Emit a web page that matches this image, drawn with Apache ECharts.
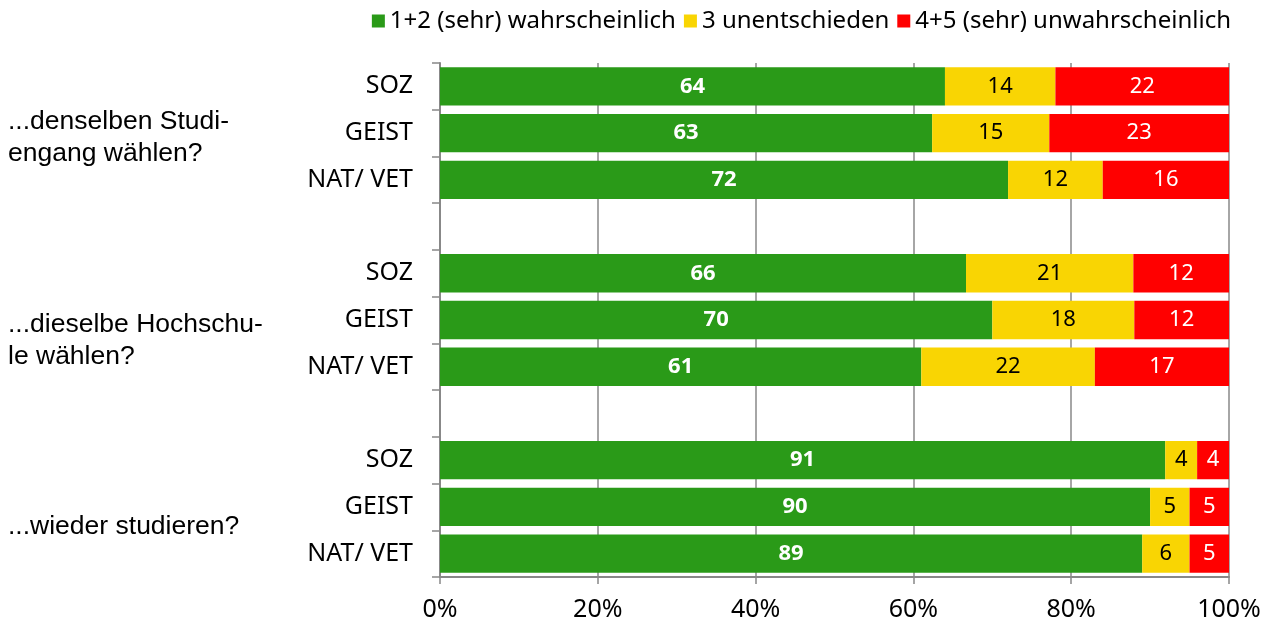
<!DOCTYPE html>
<html>
<head>
<meta charset="utf-8">
<script src="https://cdn.jsdelivr.net/npm/echarts@6/dist/echarts.min.js"></script>
<style>
    html, body { margin: 0; padding: 0; background: #fff; }
    #chart { width: 1274px; height: 625px; }
</style>
</head>
<body>
<div id="chart"></div>
<script>
// Daten
var categories = ['SOZ', 'GEIST', 'NAT/ VET', '', 'SOZ', 'GEIST', 'NAT/ VET', '', 'SOZ', 'GEIST', 'NAT/ VET'];
var likely = [64, 63, 72, null, 66, 70, 61, null, 91, 90, 89];
var undecided = [14, 15, 12, null, 21, 18, 22, null, 4, 5, 6];
var unlikely = [22, 23, 16, null, 12, 12, 17, null, 4, 5, 5];
var seriesNames = ['1+2 (sehr) wahrscheinlich', '3 unentschieden', '4+5 (sehr) unwahrscheinlich'];
var groupLabels = ['...denselben Studi-\nengang wählen?', '...dieselbe Hochschu-\nle wählen?', '...wieder studieren?'];
var xTicks = [0, 20, 40, 60, 80, 100];

var colors = ['#2a9a18', '#f9d503', '#ff0000'];
var font = '"Noto Sans", "Open Sans", sans-serif';
var groupFont = '26.5px "Liberation Sans", Arial, sans-serif';

// 100%-Stapel wie in Excel: jeder Wert durch die Zeilensumme
function share(arr) {
    return arr.map(function (v, i) {
        if (v == null) return null;
        var total = likely[i] + undecided[i] + unlikely[i];
        return v / total * 100;
    });
}

function makeSeries(name, arr, color, labelColor, bold) {
    return {
        name: name,
        type: 'bar',
        stack: 'all',
        barCategoryGap: '18%',
        data: share(arr),
        itemStyle: { color: color },
        label: {
            show: true,
            position: 'inside',
            color: labelColor,
            fontFamily: font,
            fontSize: 22,
            fontWeight: bold ? 'bold' : 'normal',
            formatter: function (p) { return arr[p.dataIndex]; }
        }
    };
}

var myChart = echarts.init(document.getElementById('chart'));

var option = {
    animation: false,
    legend: {
        right: 38,
        top: 4,
        itemWidth: 13,
        itemHeight: 13,
        itemGap: 8,
        icon: 'rect',
        textStyle: { fontFamily: font, fontSize: 24, color: '#000' },
        data: seriesNames
    },
    grid: { left: 440, right: 45, top: 63, bottom: 48 },
    xAxis: {
        type: 'value',
        min: xTicks[0],
        max: xTicks[xTicks.length - 1],
        interval: 20,
        axisLine: { show: true, lineStyle: { color: '#888', width: 2 } },
        axisTick: { show: true, length: 7, lineStyle: { color: '#888', width: 1.5 } },
        axisLabel: {
            formatter: '{value}%',
            fontFamily: font,
            fontSize: 25,
            color: '#000',
            margin: 20
        },
        splitLine: { show: true, lineStyle: { color: '#888', width: 1.5 } }
    },
    yAxis: {
        type: 'category',
        inverse: true,
        data: categories,
        axisLine: { show: true, lineStyle: { color: '#888', width: 2 } },
        axisTick: { show: true, length: 8, lineStyle: { color: '#888', width: 1.5 } },
        axisLabel: {
            fontFamily: font,
            fontSize: 25,
            color: '#000',
            margin: 27
        }
    },
    graphic: [
        { type: 'text', left: 8, top: 106, style: { text: groupLabels[0], font: groupFont, lineHeight: 32, fill: '#000' } },
        { type: 'text', left: 8, top: 309, style: { text: groupLabels[1], font: groupFont, lineHeight: 32, fill: '#000' } },
        { type: 'text', left: 8, top: 511, style: { text: groupLabels[2], font: groupFont, lineHeight: 32, fill: '#000' } }
    ],
    series: [
        makeSeries(seriesNames[0], likely, colors[0], '#fff', true),
        makeSeries(seriesNames[1], undecided, colors[1], '#000', false),
        makeSeries(seriesNames[2], unlikely, colors[2], '#fff', false)
    ]
};

myChart.setOption(option);
window.addEventListener('resize', function () {
    myChart.resize();
});
</script>
</body>
</html>
